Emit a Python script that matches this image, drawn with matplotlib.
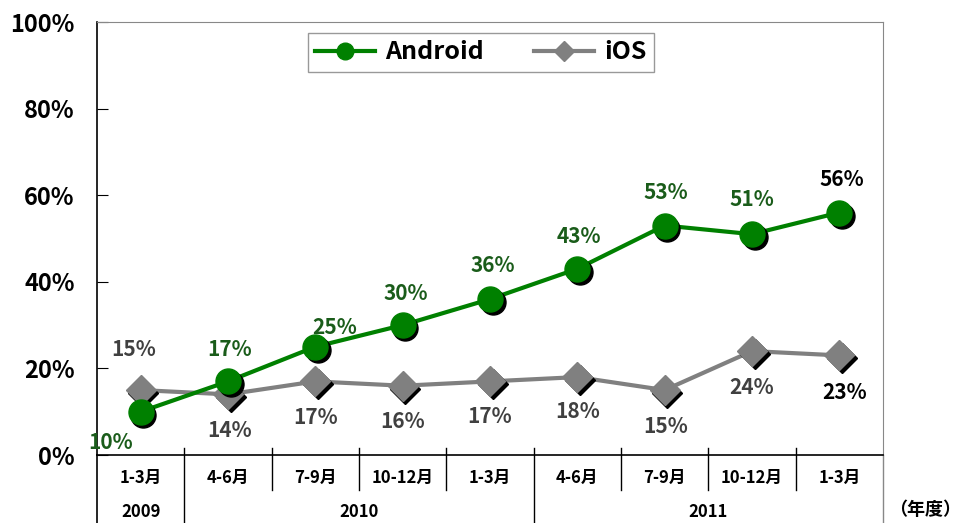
import matplotlib
matplotlib.use("Agg")
import matplotlib.pyplot as plt
import matplotlib.transforms as mtransforms

plt.rcParams['font.family'] = ['Liberation Sans Narrow', 'Noto Sans CJK JP', 'DejaVu Sans']

months = ["1-3月", "4-6月", "7-9月", "10-12月", "1-3月", "4-6月", "7-9月", "10-12月", "1-3月"]
years = ["2009", "2010", "2011"]
year_spans = [(0, 0), (1, 4), (5, 8)]
android = [10, 17, 25, 30, 36, 43, 53, 51, 56]
ios = [15, 14, 17, 16, 17, 18, 15, 24, 23]

# label offsets in points (dx, dy)
android_off = [(-22, -22), (1, 23), (14, 14), (2, 23), (2, 24), (1, 23), (1, 24), (0, 25), (2, 24)]
ios_off = [(-5, 29), (1, -26), (0, -26), (0, -26), (0, -25), (0, -25), (1, -26), (0, -26), (4, -27)]

green = "#008000"
grey = "#808080"

fig = plt.figure(figsize=(9.66, 5.23), dpi=100)
ax = fig.add_axes([0.1004, 0.1300, 0.8137, 0.8279])
x = list(range(len(months)))

shadow = mtransforms.offset_copy(ax.transData, fig=fig, x=2, y=-2.2, units='points')

ax.plot(x, ios, color=grey, lw=3, zorder=2)
ax.plot(x, ios, ls='none', marker='D', ms=15, color='black', transform=shadow, zorder=3)
ax.plot(x, ios, ls='none', marker='D', ms=15, color=grey, zorder=4)

ax.plot(x, android, color=green, lw=3, zorder=5)
ax.plot(x, android, ls='none', marker='o', ms=18, color='black', transform=shadow, zorder=6)
ax.plot(x, android, ls='none', marker='o', ms=18, color=green, zorder=7)

# legend proxies
l1, = ax.plot([], [], color=green, lw=3, marker='o', ms=12, label="Android")
l2, = ax.plot([], [], color=grey, lw=3, marker='D', ms=10, label="iOS")
leg = ax.legend(handles=[l1, l2], loc='upper center', bbox_to_anchor=(0.488, 0.975), ncol=2,
                fancybox=False, edgecolor='#999999', framealpha=1, handlelength=2.4,
                handletextpad=0.4, columnspacing=2.0, borderpad=0.3, borderaxespad=0,
                prop={'size': 18, 'weight': 'bold'})
leg.get_frame().set_linewidth(1)

for i, v in enumerate(android):
    c = 'black' if i == len(android) - 1 else '#1a5c1a'
    ax.annotate(f"{v}%", (i, v), xytext=android_off[i], textcoords='offset points',
                ha='center', va='center', fontsize=15, fontweight='bold', color=c, zorder=10)
for i, v in enumerate(ios):
    c = 'black' if i == len(ios) - 1 else '#404040'
    ax.annotate(f"{v}%", (i, v), xytext=ios_off[i], textcoords='offset points',
                ha='center', va='center', fontsize=15, fontweight='bold', color=c, zorder=10)

ax.set_xlim(-0.5, len(months) - 0.5)
ax.set_ylim(0, 100)
ax.set_yticks([0, 20, 40, 60, 80, 100])
ax.set_yticklabels([f"{t}%" for t in [0, 20, 40, 60, 80, 100]], fontsize=17, fontweight='bold')
ax.tick_params(axis='y', direction='in', length=8, pad=16)
ax.set_xticks([])
ax.spines['top'].set_color('#888888')
ax.spines['right'].set_color('#888888')
ax.spines['left'].set_linewidth(1.2)
ax.spines['bottom'].set_linewidth(1.2)

# category table below the axis
trans = mtransforms.blended_transform_factory(ax.transData, ax.transAxes)
y_top, y_mid, y_bot = 0.016, -0.081, -0.16
year_bounds = {s - 0.5 for s, _ in year_spans}
for k in range(1, len(months)):
    xb = k - 0.5
    yb = y_bot if xb in year_bounds else y_mid
    ax.plot([xb, xb], [y_top, yb], color='black', lw=1, transform=trans, clip_on=False)
ax.plot([-0.5, -0.5], [0, y_bot], color='black', lw=1.2, transform=trans, clip_on=False)
ax.plot([8.5, 8.5], [0, y_bot], color='#888888', lw=1, transform=trans, clip_on=False)

for i, m in enumerate(months):
    ax.text(i, -0.052, m, transform=trans, ha='center', va='center', fontsize=12, fontweight='bold')
for (s, e), y in zip(year_spans, years):
    ax.text((s + e) / 2, -0.131, y, transform=trans, ha='center', va='center', fontsize=12, fontweight='bold')

fig.text(0.995, 0.026, "（年度）", ha='right', va='center', fontsize=13, fontweight='bold',
         family=['Noto Sans CJK JP'])

fig.savefig("out.png", dpi=100)
